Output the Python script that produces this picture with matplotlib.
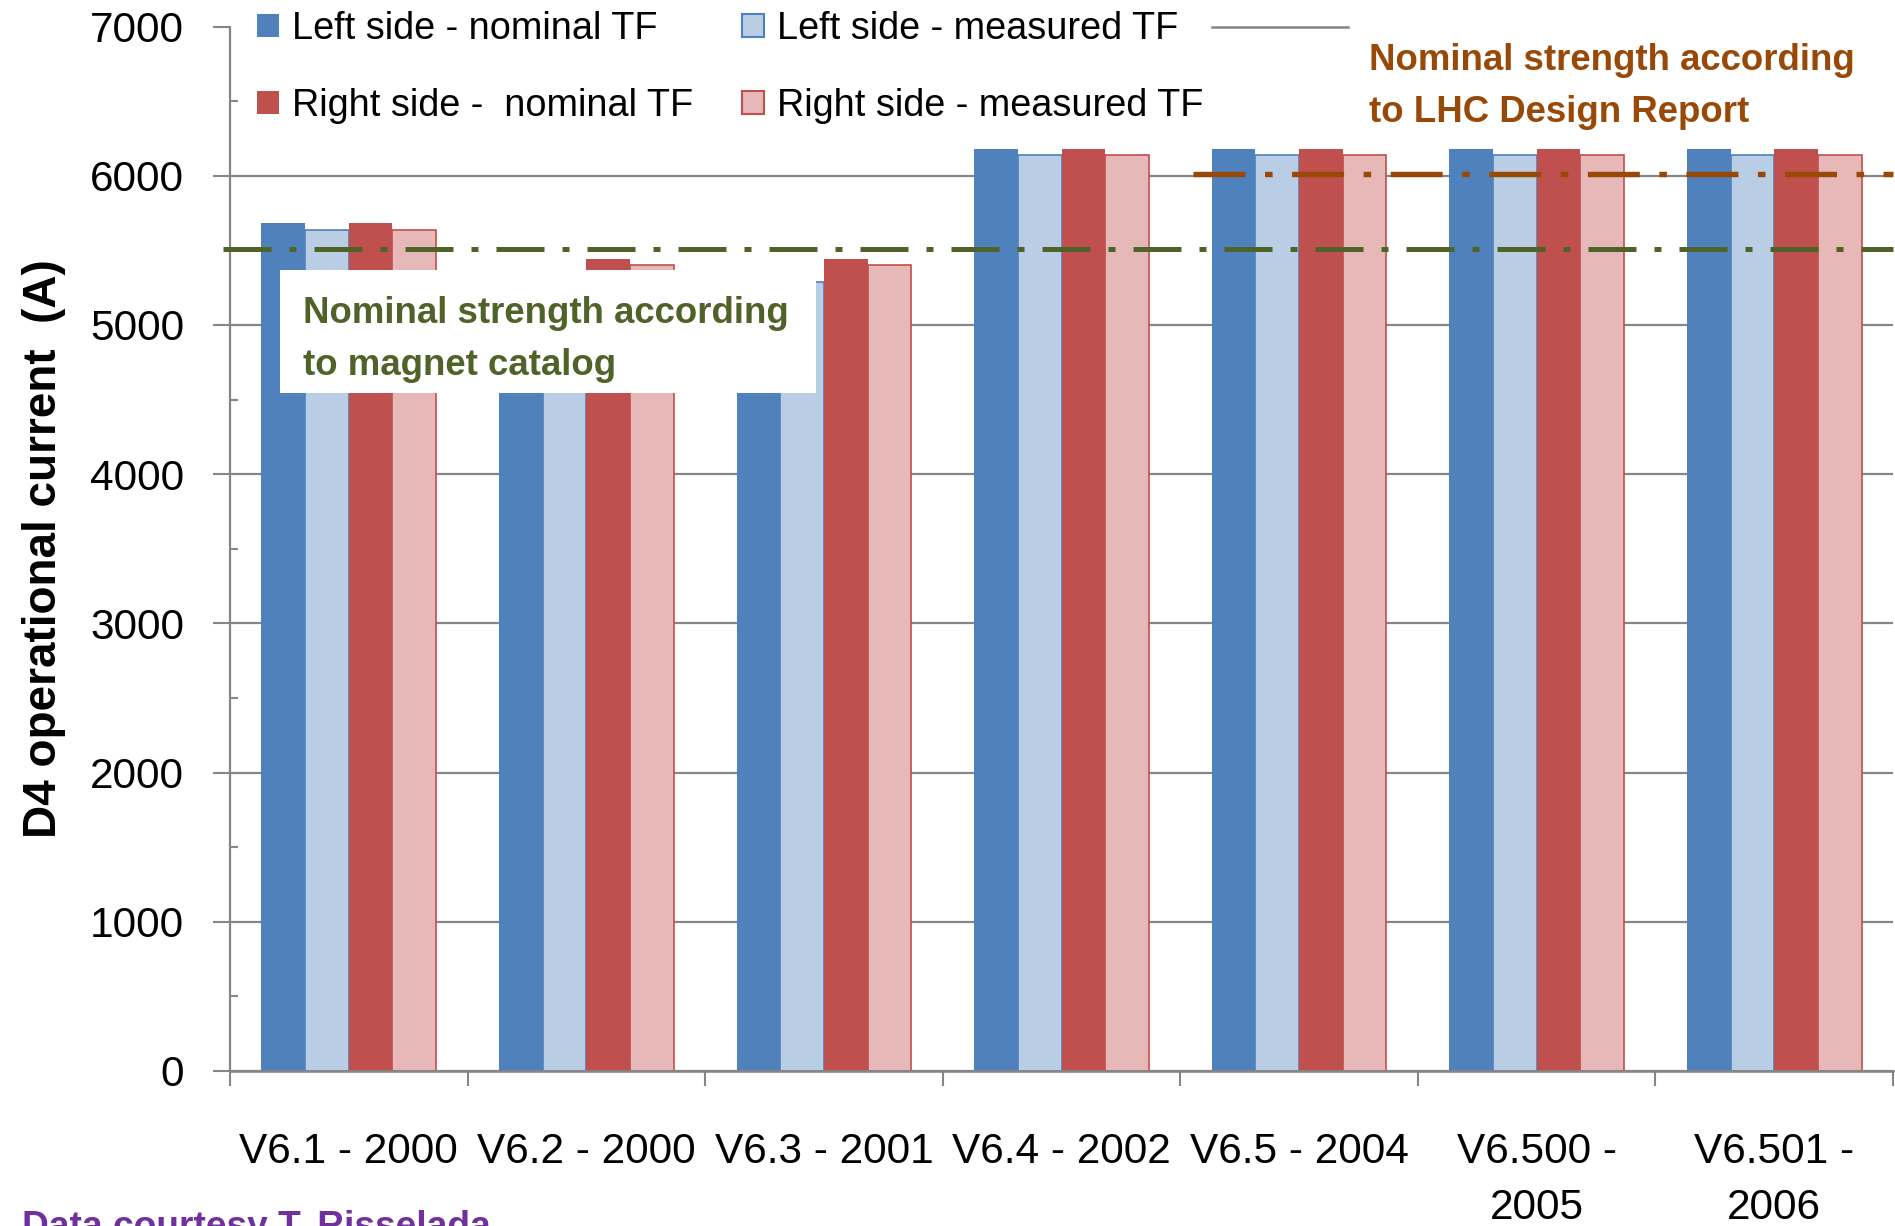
import matplotlib
matplotlib.use("Agg")
import matplotlib.pyplot as plt
from matplotlib.patches import Patch, Rectangle
from matplotlib.lines import Line2D
import numpy as np

plt.rcParams['font.family'] = ['Liberation Sans', 'DejaVu Sans']

# ---- data -------------------------------------------------------------
versions = ["V6.1 - 2000", "V6.2 - 2000", "V6.3 - 2001", "V6.4 - 2002",
            "V6.5 - 2004", "V6.500 -\n2005", "V6.501 -\n2006"]
left_nominal = [5685, 5330, 5330, 6180, 6180, 6180, 6180]
left_measured = [5640, 5290, 5290, 6140, 6140, 6140, 6140]
right_nominal = [5685, 5440, 5440, 6180, 6180, 6180, 6180]
right_measured = [5640, 5400, 5400, 6140, 6140, 6140, 6140]
catalog_nominal = 5510        # nominal strength from magnet catalog
design_report_nominal = 6010  # nominal strength from LHC Design Report
y_ticks = [0, 1000, 2000, 3000, 4000, 5000, 6000, 7000]

# ---- colours ----------------------------------------------------------
BLUE, LBLUE = '#4F81BD', '#B9CDE5'
RED, PINK = '#C0504D', '#E6B9B8'
GREEN, BROWN = '#4F6228', '#984807'
GREY = '#868686'
PURPLE = '#7030A0'

W, H = 1895, 1226
fig = plt.figure(figsize=(W / 100, H / 100), dpi=100)
ax = fig.add_axes([230 / W, (H - 1071) / H, 1663 / W, (1071 - 26.6) / H])

x = np.arange(len(versions))
w = 0.184
ax.bar(x - 1.5 * w, left_nominal, w, color=BLUE, zorder=2)
ax.bar(x - 0.5 * w, left_measured, w, color=LBLUE, edgecolor=BLUE,
       linewidth=1.2, zorder=2)
ax.bar(x + 0.5 * w, right_nominal, w, color=RED, zorder=2)
ax.bar(x + 1.5 * w, right_measured, w, color=PINK, edgecolor=RED,
       linewidth=1.2, zorder=2)

ax.set_xlim(-0.5, len(versions) - 0.5)
ax.set_ylim(0, 7000)

# reference strengths as dash-dot lines
dashdot = (0, (9.6, 3.6, 1.4, 3.6))
ax.axhline(catalog_nominal, xmin=-0.004, xmax=1, color=GREEN, lw=3.6,
           linestyle=dashdot, zorder=4, clip_on=False)
ax.axhline(design_report_nominal, xmin=0.579, xmax=1, color=BROWN, lw=3.9,
           linestyle=dashdot, zorder=4, clip_on=False)

# axes styling
for s in ['top', 'right']:
    ax.spines[s].set_visible(False)
ax.spines['left'].set_color(GREY)
ax.spines['left'].set_linewidth(1.6)
ax.spines['bottom'].set_color(GREY)
ax.spines['bottom'].set_linewidth(1.9)

ax.set_yticks(y_ticks)
ax.set_yticks(np.arange(500, 7000, 1000), minor=True)
ax.tick_params(axis='y', which='major', direction='out', length=12, width=1.5,
               color=GREY, labelsize=30.5, pad=21)
ax.tick_params(axis='y', which='minor', direction='in', length=6, width=1.5,
               color=GREY)

ax.set_xticks(x)
ax.set_xticklabels(versions, linespacing=1.5)
ax.set_xticks(np.arange(-0.5, len(versions), 1), minor=True)
ax.tick_params(axis='x', which='major', length=0, pad=44, labelsize=30.5)
ax.tick_params(axis='x', which='minor', direction='out', length=11, width=1.5,
               color=GREY)

ax.yaxis.grid(True, which='major', color=GREY, lw=1.6)
ax.set_axisbelow(True)
ax.yaxis.get_major_ticks()[-1].gridline.set_visible(False)

ax.set_ylabel("D4 operational current  (A)", fontsize=33, fontweight='bold')
ax.yaxis.label.set_va('center')
ax.yaxis.set_label_coords(-0.1116, 0.5)

# ---- legend -----------------------------------------------------------
fs = 27.3
fs_px = fs * 100 / 72
leg_kw = dict(frameon=False, fontsize=fs, handlelength=22 / fs_px,
              handleheight=21 / fs_px, handletextpad=13 / fs_px,
              labelspacing=1.08, borderpad=0, borderaxespad=0,
              loc='center left')
fig.legend([Patch(fc=BLUE, ec='none'), Patch(fc=RED, ec='none')],
           ['Left side - nominal TF', 'Right side -  nominal TF'],
           bbox_to_anchor=(257 / W, 1 - 67.5 / H), **leg_kw)
fig.legend([Patch(fc=LBLUE, ec=BLUE, lw=1.5), Patch(fc=PINK, ec=RED, lw=1.5)],
           ['Left side - measured TF', 'Right side - measured TF'],
           bbox_to_anchor=(742 / W, 1 - 67.5 / H), **leg_kw)
line_kw = dict(leg_kw)
line_kw['handlelength'] = 136 / fs_px
line_kw['handletextpad'] = 0
fig.legend([Line2D([], [], color=GREY, lw=1.8)], [''],
           bbox_to_anchor=(1212 / W, 1 - 29.5 / H), **line_kw)

# ---- annotations ------------------------------------------------------
fig.text(1369 / W, 1 - 43 / H, "Nominal strength according\nto LHC Design Report",
         color=BROWN, fontsize=26.4, fontweight='bold', ha='left', va='top',
         linespacing=1.62)

ax.add_patch(Rectangle((280 / W, 1 - 393 / H), (816 - 280) / W, (393 - 270) / H,
                       transform=fig.transFigure, fc='white', ec='none',
                       zorder=6, clip_on=False))
fig.text(303 / W, 1 - 296 / H, "Nominal strength according\nto magnet catalog",
         color=GREEN, fontsize=26.4, fontweight='bold', ha='left', va='top',
         linespacing=1.62, zorder=7)

fig.text(22 / W, 1 - 1210 / H, "Data courtesy T. Risselada", color=PURPLE,
         fontsize=26.7, fontweight='bold', ha='left', va='top')

fig.savefig("out.png", dpi=100)
